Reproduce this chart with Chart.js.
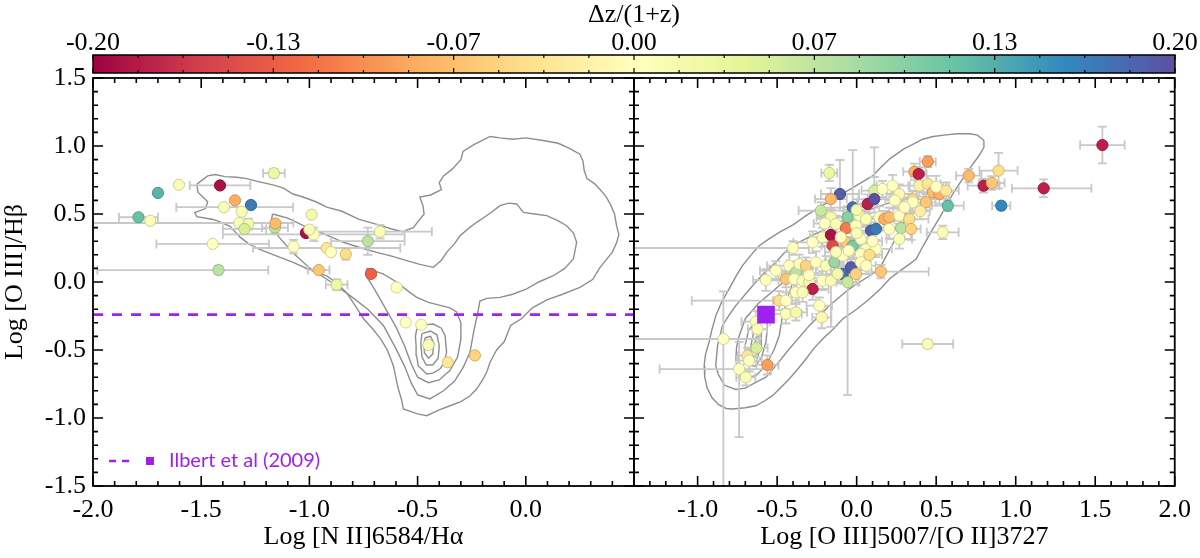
<!DOCTYPE html>
<html><head><meta charset="utf-8">
<script src="https://cdn.jsdelivr.net/npm/chart.js@4.4.1/dist/chart.umd.min.js"></script>
<style>
html,body{margin:0;padding:0;background:#fff;width:1200px;height:558px;overflow:hidden;}
canvas{position:absolute;left:0;top:0;}
</style></head><body>
<canvas id="cb" width="1200" height="80"></canvas>
<canvas id="left" width="1200" height="558"></canvas>
<canvas id="right" width="1200" height="558"></canvas>
<script>
// ---------------- DATA ----------------
// colour bar
const cbMin = -0.2, cbMax = 0.2;
const cbTicks = [-0.2, -0.13333, -0.06667, 0, 0.06667, 0.13333, 0.2];
const cbTickLabels = ['-0.20','-0.13','-0.07','0.00','0.07','0.13','0.20'];
const cbTitle = 'Δz/(1+z)';

// axis tick values
const yTicks = [-1.5,-1.0,-0.5,0.0,0.5,1.0,1.5];
const bptXTicks = [-2.0,-1.5,-1.0,-0.5,0.0,0.5];
const bptXLabelsShown = [-2.0,-1.5,-1.0,-0.5,0.0];
const o3o2XTicks = [-1.0,-0.5,0.0,0.5,1.0,1.5,2.0];
const yRange = [-1.5, 1.5];
const bptXRange = [-2.0, 0.5];
const o3o2XRange = [-1.4, 2.0];

// Ilbert et al (2009) reference
const ilbertLogO3Hb = -0.24;
const ilbertLogO3O2 = -0.57;

// Left panel: BPT points
const bptX  = [-1.164,-1.603,-1.413,-1.70,-1.344,-1.27,-1.395,-1.313,-1.79,-1.735,-1.324,-1.282,-1.30,-1.159,-1.157,-0.99,-1.016,-0.98,-1.00,-1.073,-0.92,-0.90,-0.832,-0.674,-0.73,-0.957,-0.874,-0.715,-0.597,-1.447,-1.42,-0.555,-0.483,-0.45,-0.361,-0.235];
const bptY  = [0.80,0.715,0.71,0.655,0.60,0.566,0.55,0.517,0.476,0.45,0.434,0.426,0.39,0.40,0.43,0.495,0.36,0.35,0.385,0.26,0.25,0.22,0.205,0.37,0.30,0.088,-0.02,0.06,-0.04,0.28,0.088,-0.297,-0.314,-0.463,-0.59,-0.54];
const bptDz = [0.03,0.01,-0.19,0.13,-0.08,0.17,0.01,0.01,0.12,0.01,0.01,0.02,0.05,0.07,-0.07,0.02,-0.19,0.0,0.01,0.0,-0.03,0.0,-0.04,0.01,0.07,-0.06,0.03,-0.13,0.0,0.0,0.07,0.0,0.0,0.01,-0.03,-0.05];
const bptExLo = [0.05,0,0.14,0,0,0,0.22,0,0.09,0,0.68,0,0.10,0.06,0,0,0,0.42,0,0,0.34,0,0,0.30,0.17,0.05,0.05,0,0,0.26,0.56,0,0,0,0,0];
const bptExHi = [0.05,0,0.14,0,0,0,0.32,0,0.09,0,0.25,0,0.10,0.06,0,0,0,0.42,0,0,0.34,0,0,0.24,0.17,0.05,0.05,0,0,0.26,0.23,0,0,0,0,0];
const bptEyLo = [0.03,0,0,0,0,0,0,0,0,0,0,0.04,0,0.04,0,0,0,0.05,0,0.05,0,0,0.04,0.05,0.10,0,0.04,0,0,0,0.03,0,0,0,0,0];
const bptEyHi = [0.03,0,0,0,0,0,0,0,0,0,0,0.04,0,0.04,0,0,0,0.05,0,0.05,0,0,0.04,0.05,0.10,0,0.04,0,0,0,0.03,0,0,0,0,0];

// Left panel: SDSS density contours
const bptContour1 = [[-1.52,0.72],[-1.47,0.78],[-1.436,0.79],[-1.39,0.775],[-1.335,0.77],[-1.29,0.76],[-1.24,0.74],[-1.16,0.71],[-1.12,0.69],[-1.076,0.647],[-1.03,0.625],[-0.97,0.59],[-0.92,0.55],[-0.85,0.52],[-0.77,0.46],[-0.68,0.42],[-0.62,0.39],[-0.57,0.37],[-0.52,0.40],[-0.50,0.44],[-0.47,0.50],[-0.475,0.56],[-0.49,0.625],[-0.44,0.64],[-0.39,0.68],[-0.40,0.73],[-0.38,0.78],[-0.34,0.83],[-0.30,0.90],[-0.29,0.96],[-0.24,1.01],[-0.165,1.07],[-0.12,1.06],[-0.06,1.05],[0.0,1.06],[0.08,1.04],[0.15,1.02],[0.204,0.98],[0.25,0.94],[0.264,0.89],[0.27,0.82],[0.283,0.76],[0.32,0.72],[0.343,0.68],[0.37,0.63],[0.39,0.575],[0.41,0.50],[0.42,0.41],[0.43,0.35],[0.42,0.29],[0.40,0.22],[0.375,0.17],[0.34,0.10],[0.31,0.02],[0.25,-0.04],[0.17,-0.09],[0.10,-0.13],[0.03,-0.19],[-0.02,-0.27],[-0.07,-0.32],[-0.10,-0.44],[-0.135,-0.50],[-0.165,-0.59],[-0.18,-0.66],[-0.197,-0.713],[-0.227,-0.787],[-0.26,-0.84],[-0.30,-0.88],[-0.35,-0.91],[-0.40,-0.94],[-0.458,-0.983],[-0.50,-0.97],[-0.566,-0.934],[-0.575,-0.86],[-0.59,-0.78],[-0.612,-0.615],[-0.64,-0.50],[-0.67,-0.42],[-0.71,-0.34],[-0.75,-0.27],[-0.79,-0.17],[-0.83,-0.075],[-0.88,0.0],[-0.92,0.045],[-1.0,0.09],[-1.075,0.145],[-1.15,0.19],[-1.23,0.24],[-1.28,0.28],[-1.32,0.33],[-1.367,0.41],[-1.41,0.44],[-1.445,0.46],[-1.52,0.48],[-1.53,0.51],[-1.48,0.54],[-1.47,0.59],[-1.515,0.66],[-1.52,0.72]];
const bptContour2 = [[-1.17,0.50],[-1.10,0.47],[-1.028,0.414],[-0.94,0.36],[-0.843,0.292],[-0.76,0.25],[-0.689,0.218],[-0.62,0.19],[-0.55,0.157],[-0.49,0.13],[-0.427,0.108],[-0.39,0.16],[-0.366,0.218],[-0.33,0.28],[-0.304,0.34],[-0.26,0.40],[-0.227,0.439],[-0.17,0.50],[-0.119,0.561],[-0.08,0.58],[-0.042,0.574],[-0.011,0.512],[0.04,0.50],[0.097,0.488],[0.15,0.45],[0.189,0.414],[0.22,0.36],[0.235,0.292],[0.22,0.169],[0.18,0.10],[0.127,0.046],[0.06,0.0],[0.004,-0.051],[-0.06,-0.09],[-0.119,-0.113],[-0.18,-0.12],[-0.212,-0.14],[-0.225,-0.25],[-0.24,-0.36],[-0.258,-0.517],[-0.29,-0.63],[-0.33,-0.73],[-0.38,-0.80],[-0.443,-0.86],[-0.50,-0.83],[-0.53,-0.74],[-0.56,-0.62],[-0.60,-0.49],[-0.658,-0.32],[-0.73,-0.20],[-0.812,-0.10],[-0.90,0.0],[-0.997,0.10],[-1.08,0.22],[-1.14,0.33],[-1.18,0.42],[-1.17,0.50]];
const bptContour3 = [[-0.735,0.10],[-0.66,0.06],[-0.597,0.0],[-0.55,-0.06],[-0.504,-0.113],[-0.45,-0.15],[-0.40,-0.17],[-0.35,-0.19],[-0.32,-0.22],[-0.30,-0.30],[-0.30,-0.42],[-0.315,-0.55],[-0.35,-0.65],[-0.40,-0.72],[-0.45,-0.74],[-0.50,-0.70],[-0.53,-0.60],[-0.56,-0.47],[-0.60,-0.33],[-0.65,-0.19],[-0.70,-0.05],[-0.74,0.05],[-0.735,0.10]];
const bptContour4 = [[-0.504,-0.346],[-0.47,-0.315],[-0.427,-0.309],[-0.39,-0.34],[-0.373,-0.395],[-0.366,-0.517],[-0.38,-0.60],[-0.397,-0.64],[-0.43,-0.67],[-0.458,-0.676],[-0.497,-0.615],[-0.505,-0.54],[-0.507,-0.468],[-0.51,-0.40],[-0.504,-0.346]];
const bptContour5 = [[-0.48,-0.38],[-0.44,-0.36],[-0.41,-0.39],[-0.40,-0.47],[-0.405,-0.56],[-0.43,-0.61],[-0.46,-0.61],[-0.48,-0.55],[-0.485,-0.45],[-0.48,-0.38]];
const bptContour6 = [[-0.465,-0.41],[-0.44,-0.40],[-0.425,-0.45],[-0.43,-0.53],[-0.45,-0.56],[-0.468,-0.52],[-0.472,-0.46],[-0.465,-0.41]];

// Right panel: O3O2 points
const o3o2X  = [1.545,1.176,0.909,0.798,0.85,0.892,0.705,0.447,0.363,0.39,-0.172,0.573,0.541,0.447,
 0.111,0.163,0.226,0.268,0.352,0.394,0.447,0.478,0.520,0.562,0.436,0.352,-0.105,-0.162,-0.225,-0.025,0.069,0.111,-0.057,0.017,0.059,0.142,0.174,0.205,0.268,0.331,-0.162,-0.130,-0.067,-0.004,0.090,0.121,0.205,0.279,0.342,0.268,
 -0.277,-0.214,-0.162,-0.151,-0.067,-0.025,0.027,0.059,0.027,0.121,-0.424,-0.382,-0.361,-0.319,-0.256,-0.193,-0.141,-0.088,-0.036,-0.088,-0.004,-0.057,0.027,0.153,
 -0.571,-0.508,-0.445,-0.393,-0.340,-0.298,-0.277,-0.214,-0.162,-0.487,-0.445,-0.382,-0.340,-0.235,-0.219,-0.445,-0.382,-0.634,-0.624,-0.838,-0.630,-0.687,-0.676,-0.561,-0.739,-0.697,-0.40,
 0.30,0.40,-0.10,0.0,-0.05,0.08,-0.13,0.06,-0.30,-0.12,0.10,0.0,-0.20,0.24,0.50];
const o3o2Y  = [1.007,0.689,0.561,0.708,0.728,0.819,0.782,0.885,0.811,0.794,0.802,0.561,0.365,-0.456,
 0.672,0.684,0.708,0.647,0.610,0.708,0.721,0.660,0.647,0.672,0.586,0.586,0.647,0.610,0.525,0.549,0.574,0.610,0.476,0.488,0.463,0.476,0.463,0.476,0.488,0.463,0.476,0.427,0.397,0.414,0.378,0.390,0.390,0.397,0.390,0.316,
 0.292,0.328,0.346,0.267,0.292,0.267,0.316,0.243,0.206,0.243,0.120,0.071,0.132,0.120,0.145,0.120,0.145,0.194,0.108,0.059,0.059,-0.002,0.145,0.076,
 0.015,0.083,0.022,0.022,0.010,-0.002,-0.051,0.010,0.010,-0.137,-0.137,-0.076,-0.076,-0.174,-0.260,-0.235,-0.223,-0.292,-0.346,-0.419,-0.485,-0.542,-0.578,-0.610,-0.640,-0.701,0.25,
 0.55,0.52,0.33,0.36,0.23,0.20,0.22,0.12,0.05,0.06,0.30,0.53,0.43,0.60,0.70];
const o3o2Dz = [-0.18,-0.18,0.16,-0.18,-0.06,-0.04,-0.07,-0.09,-0.08,-0.18,0.03,0.12,0.01,0.01,
 0.05,0.0,0.0,-0.01,-0.05,-0.02,-0.03,-0.07,-0.08,-0.03,-0.06,0.0,0.19,-0.07,0.06,0.18,-0.18,0.20,0.10,0.0,0.01,0.0,-0.08,-0.07,0.0,-0.04,0.02,0.01,-0.11,0.0,0.19,0.17,0.0,0.07,-0.05,0.01,
 0.0,0.01,-0.19,-0.15,-0.06,0.11,0.0,0.01,0.0,0.0,0.0,0.07,0.01,-0.05,0.0,0.01,0.09,0.0,0.19,0.18,-0.05,0.06,0.0,-0.06,
 0.0,0.0,-0.06,0.0,0.01,-0.01,-0.18,0.0,0.01,-0.04,0.0,0.0,0.01,0.0,-0.01,0.01,0.02,0.0,0.01,0.0,0.05,-0.03,0.0,-0.09,0.0,0.01,0.0,
 0.0,-0.02,0.0,0.01,0.0,-0.04,0.01,0.0,0.0,0.02,0.0,0.02,0.0,0.0,0.0];
const o3o2ExLo = [0.14,0.20,0.057,0.10,0.08,0.12,0.08,0.05,0.07,0.05,0.05,0.10,0.10,0.16,
 0.08,0.06,0.10,0.08,0.07,0.06,0.08,0.10,0.06,0.08,0.06,0.07,0.12,0.10,0.14,0.08,0.06,0.10,0.08,0.06,0.07,0.10,0.06,0.05,0.08,0.12,0.09,0.07,0.06,0.08,0.10,0.06,0.12,0.07,0.06,0.08,
 0.12,0.08,0.06,0.07,0.10,0.08,0.06,0.08,0.07,0.10,0.14,0.09,0.08,0.07,0.10,0.08,0.06,0.07,0.09,0.06,0.08,0.07,0.06,0.06,
 0.08,0.10,0.12,0.07,0.06,0.08,0.10,0.07,0.06,0.55,0.08,0.06,0.07,0.08,0.06,0.10,0.07,0.09,0.06,0.60,0.07,0.06,0.08,0.07,0.50,0.06,1.00,
 0.07,0.06,0.08,0.07,0.06,0.08,0.07,0.06,0.08,0.07,0.06,0.08,0.07,0.06,0.08];
const o3o2ExHi = [0.14,0.30,0.057,0.10,0.08,0.12,0.08,0.05,0.07,0.05,0.05,0.10,0.10,0.16,
 0.08,0.06,0.10,0.08,0.07,0.06,0.08,0.10,0.06,0.08,0.06,0.07,0.12,0.10,0.14,0.08,0.06,0.10,0.08,0.06,0.07,0.10,0.06,0.05,0.08,0.12,0.09,0.07,0.06,0.08,0.10,0.06,0.12,0.07,0.06,0.08,
 0.12,0.08,0.06,0.07,0.10,0.08,0.06,0.08,0.07,0.10,0.14,0.09,0.08,0.07,0.10,0.08,0.06,0.07,0.09,0.06,0.08,0.07,0.06,0.30,
 0.08,0.10,0.12,0.07,0.06,0.08,0.10,0.07,0.06,0.08,0.08,0.06,0.07,0.08,0.06,0.10,0.07,0.09,0.06,0.23,0.07,0.06,0.08,0.07,0.20,0.06,0.10,
 0.07,0.06,0.08,0.07,0.06,0.08,0.07,0.06,0.08,0.07,0.06,0.08,0.07,0.06,0.08];
const o3o2EyLo = [0.135,0.065,0.03,0.05,0.05,0.13,0.05,0.04,0.06,0.05,0.06,0.04,0.05,0.03,
 0.10,0.06,0.08,0.07,0.06,0.08,0.06,0.05,0.07,0.06,0.06,0.08,0.10,0.08,0.06,0.10,0.07,0.10,0.08,0.07,0.06,0.08,0.06,0.07,0.06,0.08,0.07,0.06,0.08,0.07,0.06,0.08,0.07,0.06,0.08,0.07,
 0.08,0.07,0.06,0.08,0.07,0.10,0.06,0.07,0.08,0.06,0.10,0.08,0.07,0.06,0.08,0.07,0.06,0.08,0.07,0.06,0.08,0.83,0.06,0.05,
 0.08,0.07,0.06,0.08,0.07,0.06,0.08,0.07,0.34,0.07,0.06,0.08,0.07,0.06,0.08,0.07,0.06,0.08,0.07,1.20,0.07,0.06,0.08,0.07,0.50,0.06,0.05,
 0.07,0.06,0.08,0.07,0.06,0.08,0.07,0.06,0.08,0.07,0.06,0.08,0.07,0.06,0.08];
const o3o2EyHi = [0.135,0.065,0.03,0.05,0.05,0.13,0.05,0.04,0.06,0.05,0.06,0.04,0.05,0.03,
 0.10,0.06,0.08,0.07,0.06,0.08,0.06,0.05,0.07,0.06,0.06,0.08,0.25,0.08,0.06,0.42,0.07,0.38,0.08,0.07,0.06,0.08,0.06,0.07,0.06,0.08,0.07,0.06,0.08,0.07,0.06,0.08,0.07,0.06,0.08,0.07,
 0.08,0.07,0.06,0.08,0.07,0.10,0.06,0.07,0.08,0.06,0.10,0.08,0.07,0.06,0.08,0.07,0.06,0.08,0.07,0.06,0.08,0.30,0.06,0.05,
 0.08,0.07,0.06,0.08,0.07,0.06,0.08,0.07,0.10,0.07,0.06,0.08,0.07,0.06,0.08,0.07,0.06,0.08,0.07,0.35,0.07,0.06,0.08,0.07,0.20,0.06,0.05,
 0.07,0.06,0.08,0.07,0.06,0.08,0.07,0.06,0.08,0.07,0.06,0.08,0.07,0.06,0.08];

// Right panel: SDSS density contours
const o3o2Contour1 = [[0.80,1.04],[0.76,1.08],[0.71,1.09],[0.63,1.09],[0.55,1.08],[0.48,1.07],[0.415,1.05],[0.35,1.01],[0.30,0.98],[0.25,0.94],[0.206,0.904],[0.15,0.84],[0.10,0.78],[0.0,0.71],[-0.109,0.635],[-0.22,0.56],[-0.318,0.488],[-0.40,0.42],[-0.487,0.365],[-0.56,0.31],[-0.613,0.267],[-0.67,0.19],[-0.718,0.12],[-0.76,0.04],[-0.802,-0.05],[-0.85,-0.15],[-0.886,-0.25],[-0.91,-0.35],[-0.928,-0.443],[-0.95,-0.53],[-0.959,-0.615],[-0.955,-0.70],[-0.94,-0.78],[-0.91,-0.85],[-0.87,-0.90],[-0.82,-0.93],[-0.781,-0.934],[-0.70,-0.925],[-0.634,-0.91],[-0.58,-0.875],[-0.529,-0.836],[-0.48,-0.78],[-0.424,-0.713],[-0.37,-0.64],[-0.319,-0.566],[-0.27,-0.49],[-0.214,-0.419],[-0.15,-0.35],[-0.088,-0.272],[0.0,-0.20],[0.08,-0.125],[0.15,-0.05],[0.206,0.022],[0.27,0.08],[0.33,0.13],[0.374,0.169],[0.42,0.27],[0.479,0.39],[0.52,0.47],[0.563,0.56],[0.61,0.66],[0.665,0.757],[0.72,0.85],[0.77,0.93],[0.80,0.99],[0.80,1.04]];
const o3o2Contour2 = [[-0.83,-0.76],[-0.87,-0.68],[-0.886,-0.615],[-0.875,-0.47],[-0.844,-0.321],[-0.80,-0.24],[-0.76,-0.174],[-0.70,-0.09],[-0.634,0.0],[-0.57,0.08],[-0.508,0.145],[-0.45,0.22],[-0.40,0.27],[-0.30,0.33],[-0.18,0.40],[-0.05,0.47],[0.08,0.53],[0.20,0.58],[0.28,0.60],[0.32,0.56],[0.30,0.45],[0.25,0.33],[0.19,0.20],[0.143,0.096],[0.08,0.046],[-0.046,-0.05],[-0.172,-0.174],[-0.298,-0.321],[-0.424,-0.493],[-0.508,-0.615],[-0.57,-0.70],[-0.634,-0.738],[-0.70,-0.78],[-0.76,-0.79],[-0.83,-0.76]];
const o3o2Contour3 = [[-0.74,-0.40],[-0.70,-0.27],[-0.62,-0.16],[-0.52,-0.06],[-0.44,0.02],[-0.40,0.0],[-0.43,-0.10],[-0.466,-0.248],[-0.487,-0.395],[-0.52,-0.50],[-0.55,-0.566],[-0.60,-0.65],[-0.634,-0.689],[-0.68,-0.70],[-0.718,-0.689],[-0.75,-0.63],[-0.76,-0.566],[-0.755,-0.48],[-0.74,-0.40]];
const o3o2Contour4 = [[-0.70,-0.46],[-0.68,-0.36],[-0.63,-0.28],[-0.58,-0.26],[-0.56,-0.32],[-0.57,-0.44],[-0.60,-0.56],[-0.64,-0.62],[-0.68,-0.61],[-0.70,-0.54],[-0.70,-0.46]];
const o3o2Contour5 = [[-0.665,-0.47],[-0.65,-0.38],[-0.62,-0.33],[-0.60,-0.36],[-0.60,-0.46],[-0.62,-0.54],[-0.65,-0.56],[-0.665,-0.52],[-0.665,-0.47]];
const o3o2Contour6 = [[-0.64,-0.45],[-0.63,-0.40],[-0.615,-0.40],[-0.61,-0.46],[-0.625,-0.50],[-0.64,-0.49],[-0.64,-0.45]];

// ---------------- STYLE / HELPERS ----------------
const SERIF = '"Liberation Serif", "DejaVu Serif", serif';
Chart.defaults.font.family = SERIF;
Chart.defaults.font.size = 26;
Chart.defaults.color = '#000';

const spectral = [[158,1,66],[213,62,79],[244,109,67],[253,174,97],[254,224,139],[255,255,191],[230,245,152],[171,221,164],[102,194,165],[50,136,189],[94,79,162]];
function dzRGB(dz){
  let t = (dz - cbMin)/(cbMax - cbMin); t = Math.max(0, Math.min(1, t));
  const f = t*(spectral.length-1); const i = Math.min(Math.floor(f), spectral.length-2); const u = f - i;
  return spectral[i].map((v,k)=>Math.round(v + (spectral[i+1][k]-v)*u));
}
const fillOf = dz => { const c = dzRGB(dz); return `rgb(${c[0]},${c[1]},${c[2]})`; };
const rimOf = dz => { const c = dzRGB(dz).map(v=>Math.round(v*0.82)); return `rgb(${c[0]},${c[1]},${c[2]})`; };
const PURPLE = '#a020f0';
const serif = {family:SERIF, size:26};
const fmt1 = v => (Math.abs(v)<1e-9 ? 0 : v).toFixed(1);
const toXY = arr => arr.map(([x,y])=>({x,y}));

function contourDs(arr){
  return {type:'line', data: toXY(arr), borderColor:'#8e8e8e', borderWidth:1.4, pointRadius:0, fill:false, tension:0, order:10};
}
function pointsDs(X,Y,DZ,exl,exh,eyl,eyh){
  return {type:'scatter', data: X.map((x,i)=>({x, y:Y[i]})),
    backgroundColor: DZ.map(fillOf), borderColor: DZ.map(rimOf), borderWidth:1, pointRadius:5.6, pointHoverRadius:5.6,
    errors: X.map((_,i)=>({xl:exl[i], xh:exh[i], yl:eyl[i], yh:eyh[i]})), order:1};
}

const errorBarPlugin = {
  id:'errorBars',
  beforeDatasetDraw(chart, args){
    const ds = chart.data.datasets[args.index];
    if (!ds.errors) return;
    const {ctx, chartArea:a, scales:{x, y}} = chart;
    ctx.save();
    ctx.beginPath(); ctx.rect(a.left, a.top, a.right-a.left, a.bottom-a.top); ctx.clip();
    ctx.strokeStyle = '#c8c8c8'; ctx.lineWidth = 1.8; ctx.lineCap = 'butt';
    const cap = 4.5;
    ctx.beginPath();
    ds.data.forEach((p,i)=>{
      const e = ds.errors[i];
      const px = x.getPixelForValue(p.x), py = y.getPixelForValue(p.y);
      if (e.xl || e.xh){
        const x1 = x.getPixelForValue(p.x - e.xl), x2 = x.getPixelForValue(p.x + e.xh);
        ctx.moveTo(x1, py); ctx.lineTo(x2, py);
        ctx.moveTo(x1, py-cap); ctx.lineTo(x1, py+cap);
        ctx.moveTo(x2, py-cap); ctx.lineTo(x2, py+cap);
      }
      if (e.yl || e.yh){
        const y1 = y.getPixelForValue(p.y - e.yl), y2 = y.getPixelForValue(p.y + e.yh);
        ctx.moveTo(px, y1); ctx.lineTo(px, y2);
        ctx.moveTo(px-cap, y1); ctx.lineTo(px+cap, y1);
        ctx.moveTo(px-cap, y2); ctx.lineTo(px+cap, y2);
      }
    });
    ctx.stroke();
    ctx.restore();
  }
};

const frameTicksPlugin = {
  id:'frameTicks',
  afterDatasetsDraw(chart){
    const {ctx, chartArea:a, scales:{x, y}} = chart;
    ctx.save();
    ctx.strokeStyle = '#000'; ctx.lineWidth = 1.6;
    ctx.beginPath();
    for (let k = Math.ceil(x.min*10-1e-6); k <= Math.floor(x.max*10+1e-6); k++){
      const p = x.getPixelForValue(k/10); const L = (k%5===0) ? 10 : 5;
      ctx.moveTo(p, a.bottom); ctx.lineTo(p, a.bottom-L);
      ctx.moveTo(p, a.top); ctx.lineTo(p, a.top+L);
    }
    for (let k = Math.ceil(y.min*10-1e-6); k <= Math.floor(y.max*10+1e-6); k++){
      const p = y.getPixelForValue(k/10); const L = (k%5===0) ? 10 : 5;
      ctx.moveTo(a.left, p); ctx.lineTo(a.left+L, p);
      ctx.moveTo(a.right, p); ctx.lineTo(a.right-L, p);
    }
    ctx.stroke();
    ctx.lineWidth = 1.8;
    ctx.strokeRect(a.left, a.top, a.right-a.left, a.bottom-a.top);
    ctx.restore();
  }
};

const ilbertLegendPlugin = {
  id:'ilbertLegend',
  afterDatasetsDraw(chart){
    const {ctx, chartArea:a} = chart;
    const yy = a.bottom - 25, x0 = a.left + 16;
    ctx.save();
    ctx.strokeStyle = PURPLE; ctx.lineWidth = 2.5; ctx.setLineDash([7,6]);
    ctx.beginPath(); ctx.moveTo(x0, yy); ctx.lineTo(x0+24, yy); ctx.stroke();
    ctx.setLineDash([]);
    ctx.fillStyle = PURPLE; ctx.fillRect(x0+37, yy-4, 8, 8);
    ctx.font = '20px Lato, "Open Sans", sans-serif'; ctx.textBaseline = 'middle'; ctx.textAlign = 'left';
    ctx.fillText('Ilbert et al (2009)', x0+60, yy);
    ctx.restore();
  }
};

const colorbarPlugin = {
  id:'colorbar',
  beforeDatasetsDraw(chart){
    const {ctx, chartArea:a, scales:{x}} = chart;
    const g = ctx.createLinearGradient(a.left, 0, a.right, 0);
    spectral.forEach((c,i)=> g.addColorStop(i/(spectral.length-1), `rgb(${c[0]},${c[1]},${c[2]})`));
    ctx.save();
    ctx.fillStyle = g; ctx.fillRect(a.left, a.top, a.right-a.left, a.bottom-a.top);
    ctx.strokeStyle = '#000'; ctx.lineWidth = 1.2;
    ctx.beginPath();
    cbTicks.forEach((v,i)=>{
      const p = x.getPixelForValue(v);
      ctx.moveTo(p, a.top); ctx.lineTo(p, a.top+5); ctx.moveTo(p, a.bottom); ctx.lineTo(p, a.bottom-5);
      if (i < cbTicks.length-1){
        for (let k=1;k<4;k++){
          const q = x.getPixelForValue(v + (cbTicks[i+1]-v)*k/4);
          ctx.moveTo(q, a.top); ctx.lineTo(q, a.top+3); ctx.moveTo(q, a.bottom); ctx.lineTo(q, a.bottom-3);
        }
      }
    });
    ctx.stroke();
    ctx.lineWidth = 1.5;
    ctx.strokeRect(a.left, a.top, a.right-a.left, a.bottom-a.top);
    ctx.restore();
  }
};

const common = {responsive:false, devicePixelRatio:1, animation:false, events:[],
  plugins:{legend:{display:false}, tooltip:{enabled:false}}};

// ---------------- COLOUR BAR ----------------
new Chart(document.getElementById('cb'), {
  type:'scatter', data:{datasets:[]},
  options:{...common,
    layout:{padding:{left:93, right:25, top:0, bottom:7}},
    scales:{
      x:{type:'linear', position:'top', min:cbMin, max:cbMax,
         afterBuildTicks: s => { s.ticks = cbTicks.map(v=>({value:v})); },
         afterFit: s => { s.height = 55; },
         grid:{display:false, drawTicks:false}, border:{display:false},
         ticks:{autoSkip:false, maxRotation:0, color:'#000', font:serif, padding:-4, callback:(v,i)=>cbTickLabels[i]},
         title:{display:true, text:cbTitle, color:'#000', font:serif, padding:{top:0,bottom:0}}},
      y:{display:false, min:0, max:1}
    }},
  plugins:[colorbarPlugin]
});

// ---------------- LEFT PANEL (BPT) ----------------
new Chart(document.getElementById('left'), {
  type:'scatter',
  data:{datasets:[
    contourDs(bptContour1), contourDs(bptContour2), contourDs(bptContour3),
    contourDs(bptContour4), contourDs(bptContour5), contourDs(bptContour6),
    {type:'line', data:[{x:bptXRange[0], y:ilbertLogO3Hb},{x:bptXRange[1], y:ilbertLogO3Hb}],
      borderColor:PURPLE, borderWidth:2.6, borderDash:[10,9], pointRadius:0, fill:false, order:5},
    pointsDs(bptX,bptY,bptDz,bptExLo,bptExHi,bptEyLo,bptEyHi)
  ]},
  options:{...common,
    layout:{padding:{left:0, right:566, top:78, bottom:0}},
    scales:{
      x:{type:'linear', min:bptXRange[0], max:bptXRange[1],
         afterBuildTicks: s => { s.ticks = bptXTicks.map(v=>({value:v})); },
         afterFit: s => { s.height = 72; },
         grid:{display:false, drawTicks:false}, border:{display:false},
         ticks:{autoSkip:false, maxRotation:0, color:'#000', font:serif, padding:9,
           callback: v => bptXLabelsShown.some(t=>Math.abs(t-v)<1e-9) ? fmt1(v) : ''},
         title:{display:true, text:'Log [N II]6584/Hα', color:'#000', font:serif, padding:{top:0,bottom:5}}},
      y:{type:'linear', min:yRange[0], max:yRange[1],
         afterBuildTicks: s => { s.ticks = yTicks.map(v=>({value:v})); },
         afterFit: s => { s.width = 93; },
         grid:{display:false, drawTicks:false}, border:{display:false},
         ticks:{autoSkip:false, color:'#000', font:serif, padding:7, callback: v => fmt1(v)},
         title:{display:true, text:'Log [O III]/Hβ', color:'#000', font:serif, padding:{top:0,bottom:0}}}
    }},
  plugins:[errorBarPlugin, frameTicksPlugin, ilbertLegendPlugin]
});

// ---------------- RIGHT PANEL (O3O2) ----------------
new Chart(document.getElementById('right'), {
  type:'scatter',
  data:{datasets:[
    contourDs(o3o2Contour1), contourDs(o3o2Contour2), contourDs(o3o2Contour3),
    contourDs(o3o2Contour4), contourDs(o3o2Contour5), contourDs(o3o2Contour6),
    pointsDs(o3o2X,o3o2Y,o3o2Dz,o3o2ExLo,o3o2ExHi,o3o2EyLo,o3o2EyHi),
    {type:'scatter', data:[{x:ilbertLogO3O2, y:ilbertLogO3Hb}], pointStyle:'rect', pointRadius:12.5,
      backgroundColor:PURPLE, borderColor:PURPLE, borderWidth:0, order:0}
  ]},
  options:{...common,
    layout:{padding:{left:634, right:25, top:78, bottom:0}},
    scales:{
      x:{type:'linear', min:o3o2XRange[0], max:o3o2XRange[1],
         afterBuildTicks: s => { s.ticks = o3o2XTicks.map(v=>({value:v})); },
         afterFit: s => { s.height = 72; },
         grid:{display:false, drawTicks:false}, border:{display:false},
         ticks:{autoSkip:false, maxRotation:0, color:'#000', font:serif, padding:9, callback: v => fmt1(v)},
         title:{display:true, text:'Log [O III]5007/[O II]3727', color:'#000', font:serif, padding:{top:0,bottom:5}}},
      y:{type:'linear', display:false, min:yRange[0], max:yRange[1]}
    }},
  plugins:[errorBarPlugin, frameTicksPlugin]
});
</script>
</body></html>
